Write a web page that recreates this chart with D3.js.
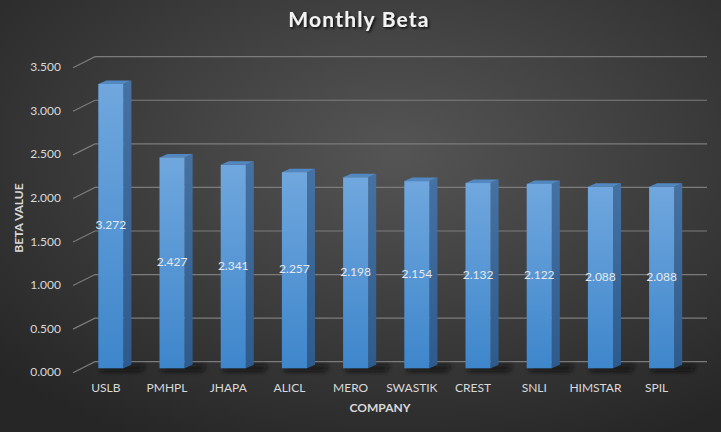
<!DOCTYPE html>
<html>
<head>
<meta charset="utf-8">
<script src="https://cdn.jsdelivr.net/npm/d3@7"></script>
<style>
  html, body { margin: 0; padding: 0; background: #333; }
  svg { display: block; }
  text { font-family: Lato, "Open Sans", sans-serif; }
</style>
</head>
<body>
<svg id="chart" width="721" height="432"></svg>
<script>
const categories = ["USLB", "PMHPL", "JHAPA", "ALICL", "MERO", "SWASTIK", "CREST", "SNLI", "HIMSTAR", "SPIL"];
const betaValues = [3.272, 2.427, 2.341, 2.257, 2.198, 2.154, 2.132, 2.122, 2.088, 2.088];
const yTicks = [0, 0.5, 1.0, 1.5, 2.0, 2.5, 3.0, 3.5];
const chartTitle = "Monthly Beta";
const xTitle = "COMPANY";
const yTitle = "BETA VALUE";

const W = 721, H = 432;
const svg = d3.select("#chart");
const defs = svg.append("defs");

// background
const bg = defs.append("radialGradient").attr("id", "bg")
  .attr("cx", "55%").attr("cy", "35%").attr("r", "75%");
bg.append("stop").attr("offset", "0%").attr("stop-color", "#555555");
bg.append("stop").attr("offset", "100%").attr("stop-color", "#262626");
svg.append("rect").attr("width", W).attr("height", H).attr("fill", "url(#bg)");

// gradients for bars
const gf = defs.append("linearGradient").attr("id", "front").attr("x1", 0).attr("y1", 0).attr("x2", 0).attr("y2", 1);
gf.append("stop").attr("offset", "0%").attr("stop-color", "#70a7de");
gf.append("stop").attr("offset", "100%").attr("stop-color", "#3e86cb");
const gs = defs.append("linearGradient").attr("id", "side").attr("x1", 0).attr("y1", 0).attr("x2", 0).attr("y2", 1);
gs.append("stop").attr("offset", "0%").attr("stop-color", "#4672a3");
gs.append("stop").attr("offset", "100%").attr("stop-color", "#2e5b8c");

const blur = defs.append("filter").attr("id", "blur").attr("x", "-50%").attr("y", "-200%").attr("width", "200%").attr("height", "500%");
blur.append("feGaussianBlur").attr("stdDeviation", 2.5);

const tshadow = defs.append("filter").attr("id", "tshadow").attr("x", "-10%").attr("y", "-30%").attr("width", "120%").attr("height", "160%");
tshadow.append("feDropShadow").attr("dx", 1.5).attr("dy", 1.5).attr("stdDeviation", 1.2).attr("flood-color", "#000").attr("flood-opacity", 0.8);

// scales
const wallDX = 22, wallDY = -11;
const yFront = d3.scaleLinear().domain([0, 3.5]).range([372.7, 67.7]);
const yBar = d3.scaleLinear().domain([0, 3.5]).range([368.3, 368.3 - 3.5 * 86.9]);
const x = d3.scaleBand().domain(categories).range([80.25, 692.25]).paddingInner(0.59).paddingOuter(0.295);
const wallLeft = 73, wallRight = 707;

// gridlines (wall)
const grid = svg.append("g");
yTicks.forEach(t => {
  const yf = yFront(t);
  grid.append("path")
    .attr("d", `M${wallLeft},${yf} L${wallLeft + wallDX},${yf + wallDY} L${wallRight},${yf + wallDY}`)
    .attr("fill", "none").attr("stroke", "#7c7c7c").attr("stroke-width", 1.2);
});

// y axis labels
const fmt = d3.format(".3f");
svg.append("g").selectAll("text").data(yTicks).join("text")
  .attr("x", 61).attr("y", d => yFront(d) + 0.5)
  .attr("text-anchor", "end").attr("dominant-baseline", "middle")
  .attr("font-size", 12).attr("fill", "#d9d9d9")
  .text(d => fmt(d));

// bars
const sdx = 8, sdy = -3.5;
const bw = x.bandwidth();
const bars = svg.append("g");
categories.forEach((c, i) => {
  const v = betaValues[i];
  const x0 = x(c), x1 = x0 + bw;
  const yt = yBar(v), yb = yBar(0);
  // shadow
  bars.append("path")
    .attr("d", `M${x0 + 4},${yb - 2} L${x1 + sdx + 14},${yb - 3} L${x1 + sdx + 10},${yb + 3} L${x0 + 2},${yb + 3} Z`)
    .attr("fill", "#111").attr("opacity", 0.85).attr("filter", "url(#blur)");
  // side
  bars.append("path")
    .attr("d", `M${x1},${yt} L${x1 + sdx},${yt + sdy} L${x1 + sdx},${yb + sdy} L${x1},${yb} Z`)
    .attr("fill", "url(#side)");
  // top
  bars.append("path")
    .attr("d", `M${x0},${yt} L${x0 + sdx},${yt + sdy} L${x1 + sdx},${yt + sdy} L${x1},${yt} Z`)
    .attr("fill", "#5288c2");
  // front
  bars.append("rect")
    .attr("x", x0).attr("y", yt).attr("width", bw).attr("height", yb - yt)
    .attr("fill", "url(#front)");
  // value label
  bars.append("text")
    .attr("x", x0 + bw / 2).attr("y", (yt + yb) / 2)
    .attr("text-anchor", "middle").attr("dominant-baseline", "middle")
    .attr("font-size", 12).attr("fill", "#e8e8e8")
    .text(fmt(v));
});

// x labels
svg.append("g").selectAll("text").data(categories).join("text")
  .attr("x", d => x(d) + bw / 2 - 5).attr("y", 389)
  .attr("text-anchor", "middle").attr("dominant-baseline", "middle")
  .attr("font-size", 12).attr("fill", "#d9d9d9")
  .text(d => d);

// axis titles
svg.append("text").attr("x", 380).attr("y", 409)
  .attr("text-anchor", "middle").attr("dominant-baseline", "middle")
  .attr("font-size", 12).attr("font-weight", "bold").attr("fill", "#d9d9d9")
  .text(xTitle);
svg.append("text").attr("transform", "translate(20,218) rotate(-90)")
  .attr("text-anchor", "middle").attr("dominant-baseline", "middle")
  .attr("font-size", 12).attr("font-weight", "bold").attr("fill", "#d9d9d9")
  .text(yTitle);

// title
svg.append("text").attr("x", 359).attr("y", 22)
  .attr("text-anchor", "middle").attr("dominant-baseline", "middle")
  .attr("font-size", 21).attr("font-weight", "bold").attr("fill", "#f2f2f2")
  .attr("letter-spacing", 1.2)
  .attr("filter", "url(#tshadow)")
  .text(chartTitle);
</script>
</body>
</html>
